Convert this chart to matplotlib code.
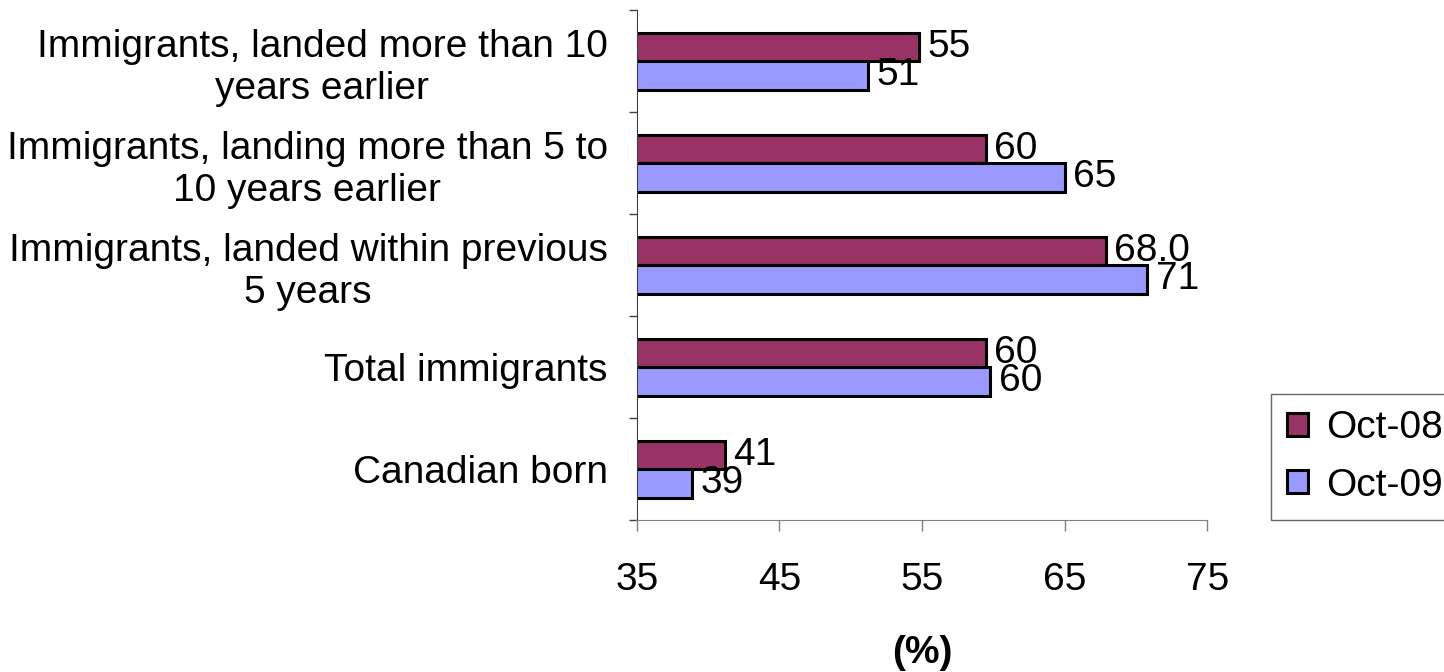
import numpy as np
import matplotlib
matplotlib.use("Agg")
import matplotlib.pyplot as plt

plt.rcParams['font.family'] = ['Liberation Sans', 'DejaVu Sans']

# categories, bottom to top
categories = ["Canadian born",
              "Total immigrants",
              "Immigrants, landed within previous\n5 years",
              "Immigrants, landing more than 5 to\n10 years earlier",
              "Immigrants, landed more than 10\nyears earlier"]
oct08 = [41.2, 59.5, 67.9, 59.5, 54.8]
oct09 = [38.9, 59.8, 70.8, 65.0, 51.2]
oct08_labels = ["41", "60", "68.0", "60", "55"]
oct09_labels = ["39", "60", "71", "65", "51"]
xticks = [35, 45, 55, 65, 75]

fs = 28
fig = plt.figure(figsize=(14.44, 6.72), dpi=100)
ax = fig.add_axes([0.441, 0.226, 0.395, 0.759])

y = np.arange(len(categories))
h = 0.28
b1 = ax.barh(y + h/2, oct08, height=h, left=0, color="#993366",
             edgecolor="black", linewidth=2.2, label="Oct-08")
b2 = ax.barh(y - h/2, oct09, height=h, left=0, color="#9999FF",
             edgecolor="black", linewidth=2.2, label="Oct-09")
ax.bar_label(b1, labels=oct08_labels, padding=6, fontsize=fs)
ax.bar_label(b2, labels=oct09_labels, padding=6, fontsize=fs)

ax.set_xlim(35, 75)
ax.set_ylim(-0.5, len(categories) - 0.5)
ax.set_xticks(xticks)
ax.tick_params(axis='x', direction='out', length=8, width=1, pad=22,
               labelsize=fs, color="#808080")

ax.set_yticks(y)
ax.set_yticklabels(categories, fontsize=fs)
for t in ax.get_yticklabels():
    t.set_multialignment('center')
ax.set_yticks(np.arange(len(categories) + 1) - 0.5, minor=True)
ax.tick_params(axis='y', which='major', length=0, pad=21)
ax.tick_params(axis='y', which='minor', direction='out', length=6, width=1,
               color="#404040")

for s in ["top", "right"]:
    ax.spines[s].set_visible(False)
ax.spines["left"].set_color("#404040")
ax.spines["bottom"].set_color("#808080")
ax.spines["bottom"].set_bounds(35 - 0.08, 75)

ax.set_xlabel("(%)", fontsize=fs, fontweight="bold", labelpad=27)

leg = fig.legend(handles=[b1, b2], loc="upper left",
                 bbox_to_anchor=(0.880, 0.414), fontsize=fs, frameon=True,
                 fancybox=False, edgecolor="#404040", handlelength=0.55,
                 handleheight=0.55, handletextpad=0.45, labelspacing=0.55,
                 borderpad=0.42, borderaxespad=0)
leg.get_frame().set_linewidth(1)

fig.savefig("out.png", dpi=100)
